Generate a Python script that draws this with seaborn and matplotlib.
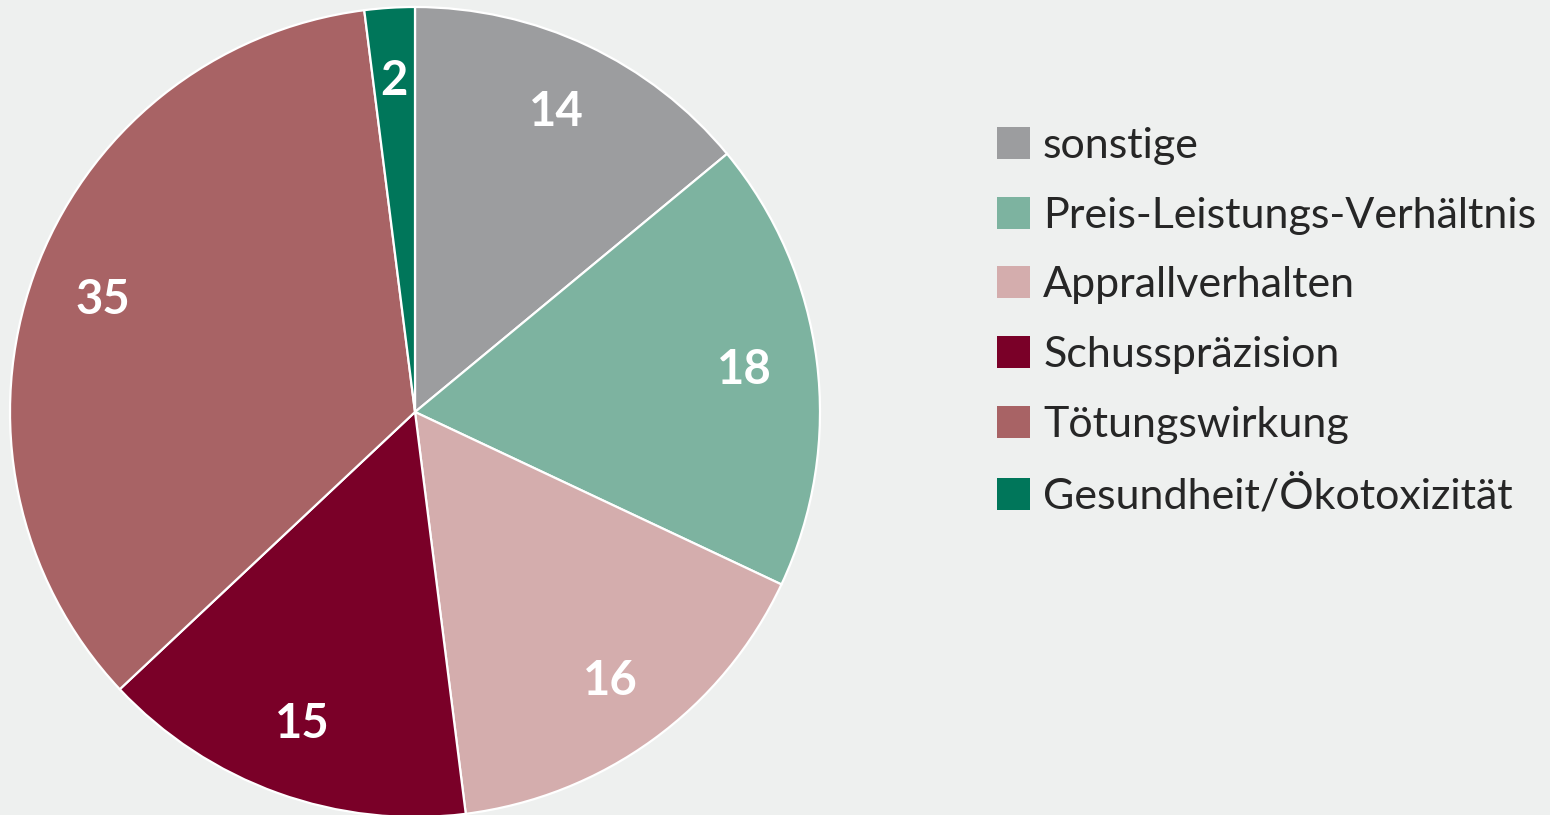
import matplotlib
matplotlib.use("Agg")
import matplotlib.pyplot as plt
from matplotlib.patches import Patch
import seaborn as sns

# Data (clockwise from 12 o'clock)
categories = ['sonstige', 'Preis-Leistungs-Verhältnis', 'Apprallverhalten',
              'Schusspräzision', 'Tötungswirkung', 'Gesundheit/Ökotoxizität']
values = [14, 18, 16, 15, 35, 2]
colors = ['#9c9d9f', '#7db3a0', '#d4adad', '#7a0028', '#a86365', '#00765a']

bg = '#eef0ef'

sns.set_theme(style='white')
plt.rcParams['font.family'] = ['Lato', 'DejaVu Sans']

fig = plt.figure(figsize=(15.5, 8.15), dpi=100, facecolor=bg)
ax = fig.add_axes([10 / 1550, -2 / 815, 810 / 1550, 810 / 815])
ax.set_facecolor(bg)

wedges, texts = ax.pie(values, colors=sns.color_palette(colors),
                       startangle=90, counterclock=False,
                       labels=[str(v) for v in values], labeldistance=0.82,
                       wedgeprops=dict(edgecolor='white', linewidth=1.6))
for t in texts:
    t.set_color('white')
    t.set_fontsize(34)
    t.set_fontweight('bold')
    t.set_ha('center')
    t.set_va('center')

ax.set_xlim(-1, 1)
ax.set_ylim(-1, 1)
ax.set_aspect('equal')
ax.axis('off')

handles = [Patch(facecolor=c, edgecolor='none') for c in colors]
leg = fig.legend(handles, categories, loc='upper left',
                 bbox_to_anchor=(997 / 1550, 1 - 127 / 815),
                 frameon=False, fontsize=31, handlelength=0.77,
                 handleheight=0.77, handletextpad=0.3, labelspacing=0.735,
                 borderaxespad=0, borderpad=0)

fig.savefig('out.png', dpi=100, facecolor=bg)
